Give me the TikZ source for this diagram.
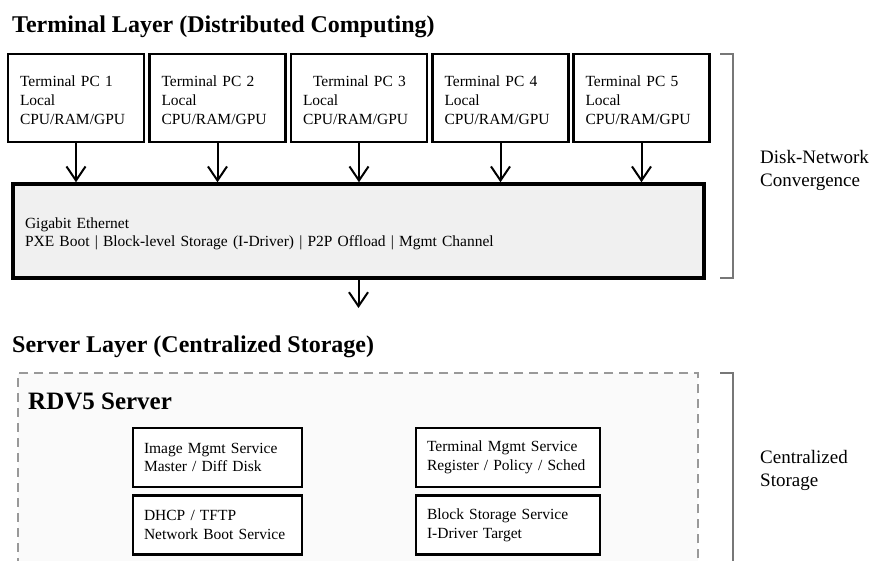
\documentclass[tikz,border=0pt]{standalone}
\usepackage{fontspec}
\setmainfont{Liberation Serif}
\usetikzlibrary{arrows.meta}
\definecolor{netfill}{HTML}{F0F0F0}
\definecolor{srvfill}{HTML}{FAFAFA}
\definecolor{dashgray}{HTML}{999999}
\definecolor{brackgray}{HTML}{777777}
\newcommand{\topstrut}[1]{\rule{0pt}{#1}}
\begin{document}
\begin{tikzpicture}[x=1pt,y=-1pt,
  boxfont/.style={font=\fontsize{15.5}{18.6}\selectfont},
  termbox/.style={boxfont, draw=black, line width=2.2pt, fill=white,
    minimum width=136pt, minimum height=88pt, text width=112pt,
    inner xsep=12pt, inner ysep=0pt, align=left},
  netbox/.style={boxfont, draw=black, line width=3.5pt, fill=netfill,
    minimum width=691pt, minimum height=94pt, text width=667pt,
    inner xsep=12pt, inner ysep=0pt, align=left},
  svcbox/.style={boxfont, draw=black, line width=2.4pt, fill=white,
    minimum height=59pt, inner xsep=11pt, inner ysep=0pt, align=left},
  srvbox/.style={draw=dashgray, line width=2pt, fill=srvfill,
    dash pattern=on 9pt off 6pt},
  bracket/.style={draw=brackgray, line width=2pt},
  arr/.style={draw=black, line width=2pt,
    -{Straight Barb[length=14pt,width=19pt,line width=2pt]}},
  title/.style={font=\fontsize{24}{29}\selectfont\bfseries, anchor=base west, inner sep=0pt},
  sidelabel/.style={font=\fontsize{19}{23}\selectfont, anchor=west, align=left, inner sep=0pt},
]
\clip (0,0) rectangle (873,560);
\fill[white] (0,0) rectangle (873,560);

% titles
\node[title] (ttop) at (12,32) {Terminal Layer (Distributed Computing)};
\node[title] (tsrv) at (12,352) {Server Layer (Centralized Storage)};

% terminal boxes
\node[termbox] (t1) at (76,98) {\topstrut{15pt}Terminal PC 1\\Local\\CPU/RAM/GPU};
\node[termbox] (t2) at (217.5,98) {\topstrut{15pt}Terminal PC 2\\Local\\CPU/RAM/GPU};
\node[termbox] (t3) at (359,98) {\topstrut{15pt}\hspace*{10pt}Terminal PC 3\\Local\\CPU/RAM/GPU};
\node[termbox] (t4) at (500.5,98) {\topstrut{15pt}Terminal PC 4\\Local\\CPU/RAM/GPU};
\node[termbox] (t5) at (641.5,98) {\topstrut{15pt}Terminal PC 5\\Local\\CPU/RAM/GPU};

% network box
\node[netbox] (net) at (358.5,231) {\topstrut{16.5pt}Gigabit Ethernet\\PXE Boot | Block-level Storage (I-Driver) | P2P Offload | Mgmt Channel};

\foreach \t in {t1,t2,t3,t4,t5}
  \draw[arr] (\t.south) -- (\t.south |- net.north);

\coordinate (out) at (358.5,308);
\draw[arr] (net.south) -- (out);

% bracket 1
\coordinate (b1a) at (720,54);
\coordinate (b1b) at (733,54);
\coordinate (b1c) at (733,278);
\coordinate (b1d) at (720,278);
\draw[bracket] (b1a) -- (b1b) -- (b1c) -- (b1d);
\node[sidelabel] (lab1) at (760,170) {Disk-Network\\Convergence};

% server box
\node[srvbox, minimum width=680pt, minimum height=240pt, inner sep=0pt] (srv) at (358,493) {};
\node[font=\fontsize{25}{30}\selectfont\bfseries, anchor=base west, inner sep=0pt] (rdv) at (28,409) {RDV5 Server};

\node[svcbox, minimum width=169pt, text width=147pt] (img) at (217.5,457.5) {Image Mgmt Service\\Master / Diff Disk};
\node[svcbox, minimum width=169pt, text width=147pt] (dhcp) at (217.5,525) {DHCP / TFTP\\Network Boot Service};
\node[svcbox, minimum width=184pt, text width=162pt] (tms) at (508,457.5) {Terminal Mgmt Service\\Register / Policy / Sched};
\node[svcbox, minimum width=184pt, text width=162pt] (bss) at (508,525) {Block Storage Service\\I-Driver Target};

% bracket 2
\coordinate (b2a) at (720,373);
\coordinate (b2b) at (733,373);
\coordinate (b2c) at (733,600);
\draw[bracket] (b2a) -- (b2b) -- (b2c);
\node[sidelabel] (lab2) at (760,470) {Centralized\\Storage};
\end{tikzpicture}
\end{document}
